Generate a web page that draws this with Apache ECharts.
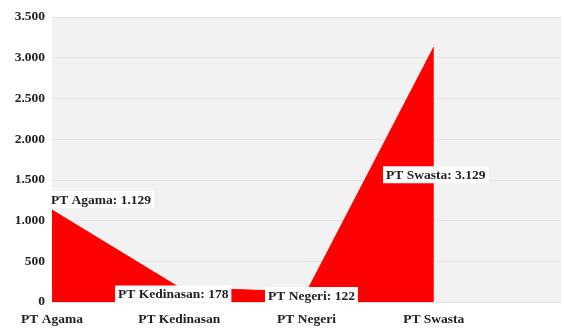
<!DOCTYPE html>
<html>
<head>
<meta charset="utf-8">
<script src="https://cdn.jsdelivr.net/npm/echarts@6/dist/echarts.min.js"></script>
<style>
  html, body { margin: 0; padding: 0; background: #ffffff; }
  #chart { width: 564px; height: 329px; }
</style>
</head>
<body>
<div id="chart"></div>
<script>
// Jumlah perguruan tinggi per jenis
const categories = ['PT Agama', 'PT Kedinasan', 'PT Negeri', 'PT Swasta', ''];
const values = [1129, 178, 122, 3129, '-'];
const yTicks = [0, 500, 1000, 1500, 2000, 2500, 3000, 3500];

// label placement per point (offset from the point, pixels)
const labelOffsets = [[49, 3], [-6, 20], [5, 17], [2, 141]];

const fmt = v => String(v).replace(/\B(?=(\d{3})+(?!\d))/g, '.');
const font = '"Liberation Serif", "Times New Roman", serif';
const fontSize = 13.5;

const chart = echarts.init(document.getElementById('chart'));

const seriesData = values.map((v, i) => {
  if (v === '-') return v;
  return {
    value: v,
    label: {
      show: true,
      position: 'top',
      offset: labelOffsets[i],
      formatter: p => categories[p.dataIndex] + ': ' + fmt(p.value)
    }
  };
});

chart.setOption({
  animation: false,
  grid: {
    left: 52, right: 0, top: 17, bottom: 27,
    show: true, backgroundColor: '#f2f2f2', borderWidth: 0
  },
  xAxis: {
    type: 'category',
    data: categories,
    boundaryGap: false,
    axisLine: { show: false },
    axisTick: { show: false },
    axisLabel: {
      margin: 11,
      color: '#222',
      fontFamily: font,
      fontWeight: 'bold',
      fontSize: fontSize
    },
    splitLine: { show: false }
  },
  yAxis: {
    type: 'value',
    min: yTicks[0],
    max: yTicks[yTicks.length - 1],
    interval: 500,
    axisLine: { show: false },
    axisTick: { show: false },
    axisLabel: {
      margin: 7,
      color: '#222',
      fontFamily: font,
      fontWeight: 'bold',
      fontSize: fontSize,
      formatter: v => fmt(v)
    },
    splitLine: { lineStyle: { color: '#e4e4e4', width: 1 } }
  },
  series: [{
    type: 'line',
    data: seriesData,
    symbol: 'circle',
    symbolSize: 0,
    lineStyle: { color: '#ff0000', width: 1 },
    itemStyle: { color: '#ff0000' },
    areaStyle: { color: '#ff0000', opacity: 1 },
    label: {
      color: '#222',
      fontFamily: font,
      fontWeight: 'bold',
      fontSize: fontSize,
      backgroundColor: '#ffffff',
      padding: [2, 3, 1, 3]
    }
  }]
});
</script>
</body>
</html>
